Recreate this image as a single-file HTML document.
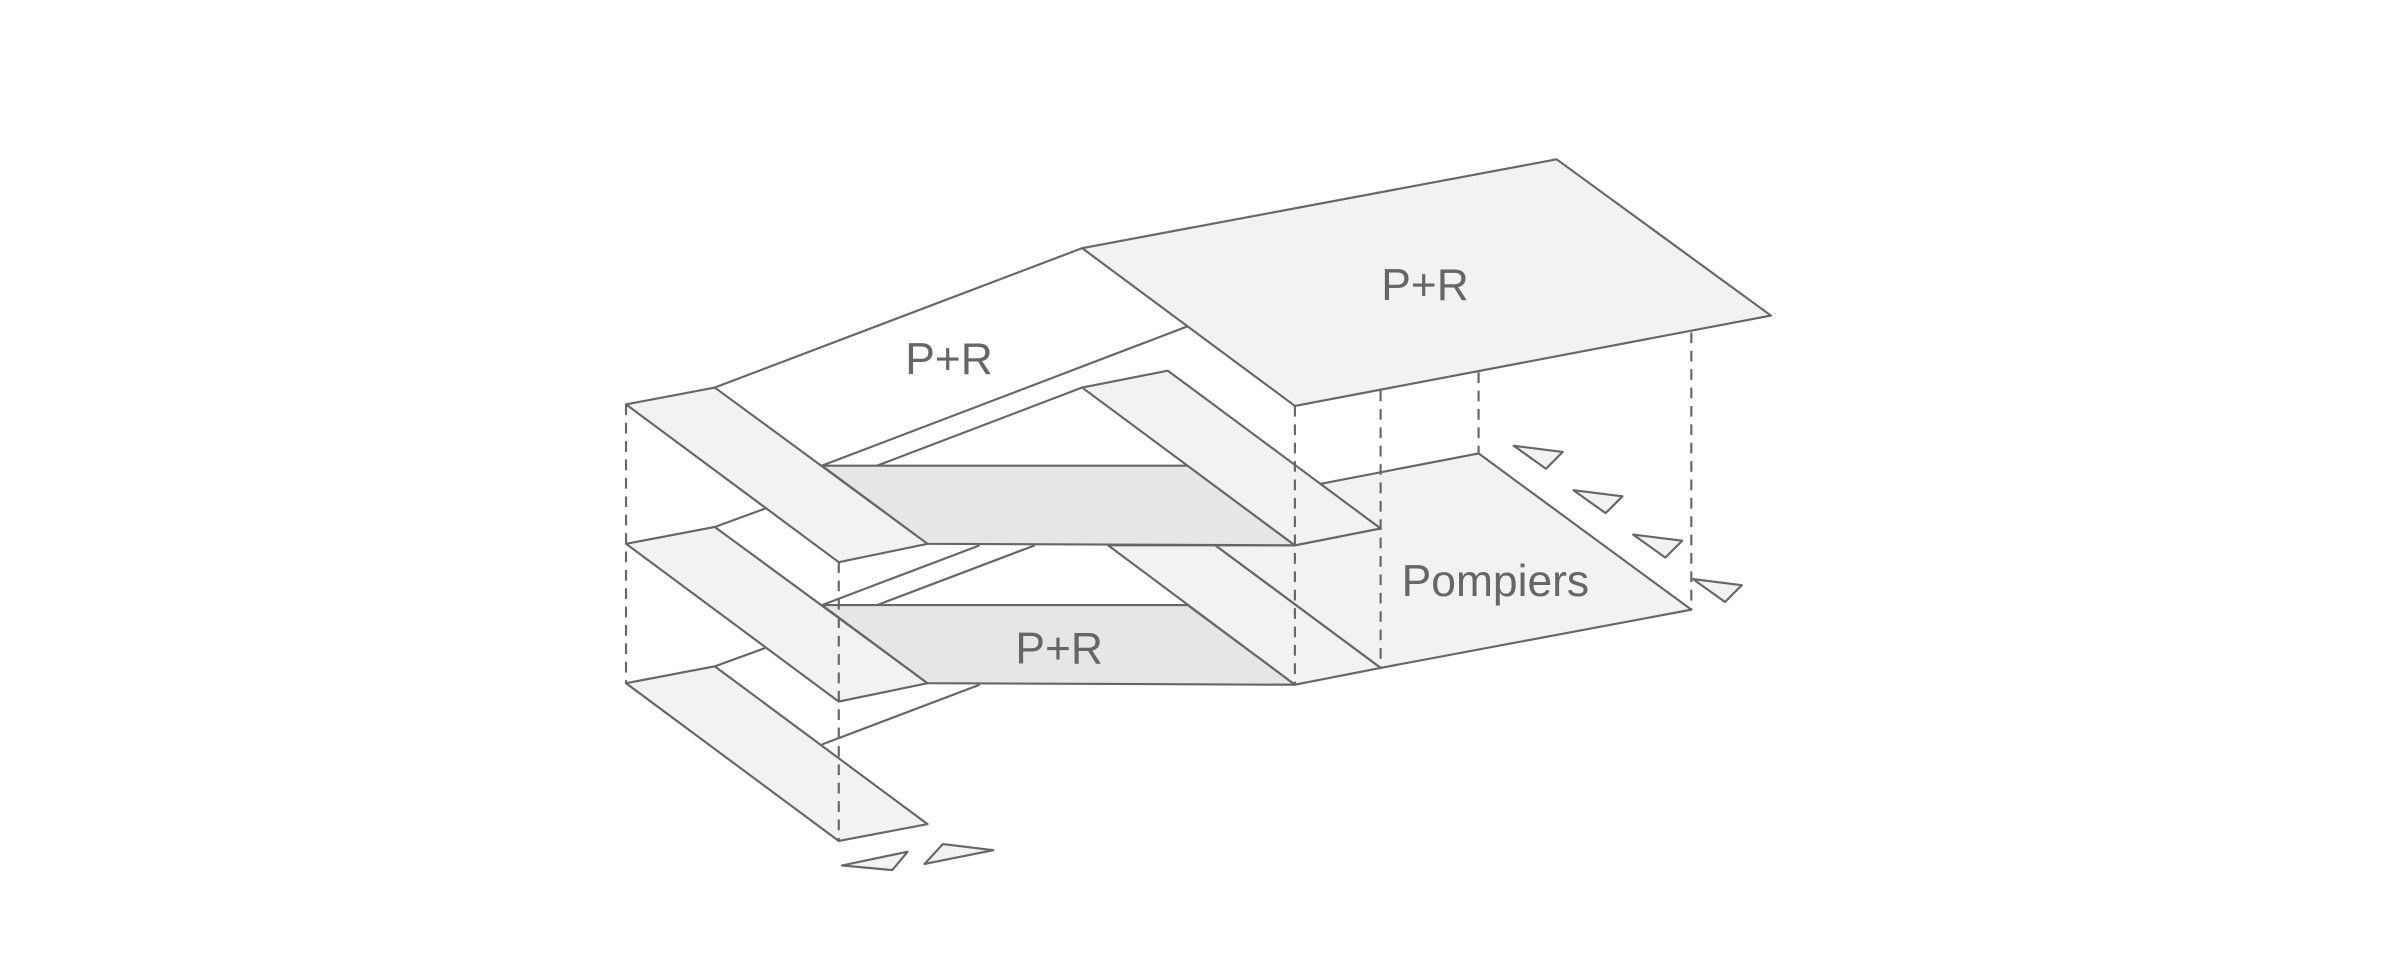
<!DOCTYPE html>
<html><head><style>html,body{margin:0;padding:0;background:#fff;width:2400px;height:962px;overflow:hidden}svg{display:block}</style></head>
<body>
<svg width="2400" height="962" viewBox="0 0 1568 628" preserveAspectRatio="none" xmlns="http://www.w3.org/2000/svg">
<g stroke="#666" stroke-width="1.4" stroke-linejoin="round" fill="none">
<polygon points="707,162 1017,104 1157,206 846,265" fill="#f2f2f2"/>
<line x1="467" y1="253" x2="707" y2="162"/>
<line x1="537" y1="304" x2="776" y2="213"/>
<line x1="573" y1="304" x2="707" y2="253"/>
<polygon points="862,316 966,296 1105,398 902,436 794,356 846,356 902,345" fill="#f2f2f2"/>
<polygon points="409,264 467,253 606,355 548,367" fill="#f2f2f2"/>
<polygon points="537,304 776,304 846,356 606,355" fill="#e6e6e6"/>
<polygon points="707,253 763,242 902,345 846,356" fill="#f2f2f2"/>
<line x1="467" y1="344" x2="500" y2="332"/>
<line x1="537" y1="395" x2="640" y2="356"/>
<line x1="573" y1="395" x2="676" y2="356"/>
<polygon points="409,355 467,344 606,446 548,458" fill="#f2f2f2"/>
<polygon points="724,356 794,356 902,436 846,447" fill="#f2f2f2"/>
<polygon points="537,395 776,395 846,447 606,446" fill="#e6e6e6"/>
<line x1="467" y1="435" x2="500" y2="423"/>
<line x1="537" y1="486" x2="640" y2="447"/>
<polygon points="409,446 467,435 606,538 548,549" fill="#f2f2f2"/>
<g stroke-dasharray="7,5">
<line x1="409" y1="264" x2="409" y2="446"/>
<line x1="548" y1="367" x2="548" y2="549"/>
<line x1="846" y1="265" x2="846" y2="447"/>
<line x1="902" y1="255" x2="902" y2="436"/>
<line x1="966" y1="243" x2="966" y2="296"/>
<line x1="1105" y1="217" x2="1105" y2="398"/>
</g>
<g fill="#f2f2f2">
<polygon points="989,291 1021,295 1010,306"/>
<polygon points="1028,320 1060,324 1049,335"/>
<polygon points="1067,349 1099,353 1088,364"/>
<polygon points="1106,378 1138,382 1127,393"/>
<polygon points="550,565 593,556 583,568"/>
<polygon points="604,564 616,551 649,555"/>
</g>
</g>
<g fill="#666" font-family="Liberation Sans, sans-serif" font-size="29" text-anchor="middle">
<text x="620" y="244">P+R</text>
<text x="931" y="196">P+R</text>
<text x="692" y="433">P+R</text>
<text x="977" y="389">Pompiers</text>
</g>
</svg>
</body></html>
